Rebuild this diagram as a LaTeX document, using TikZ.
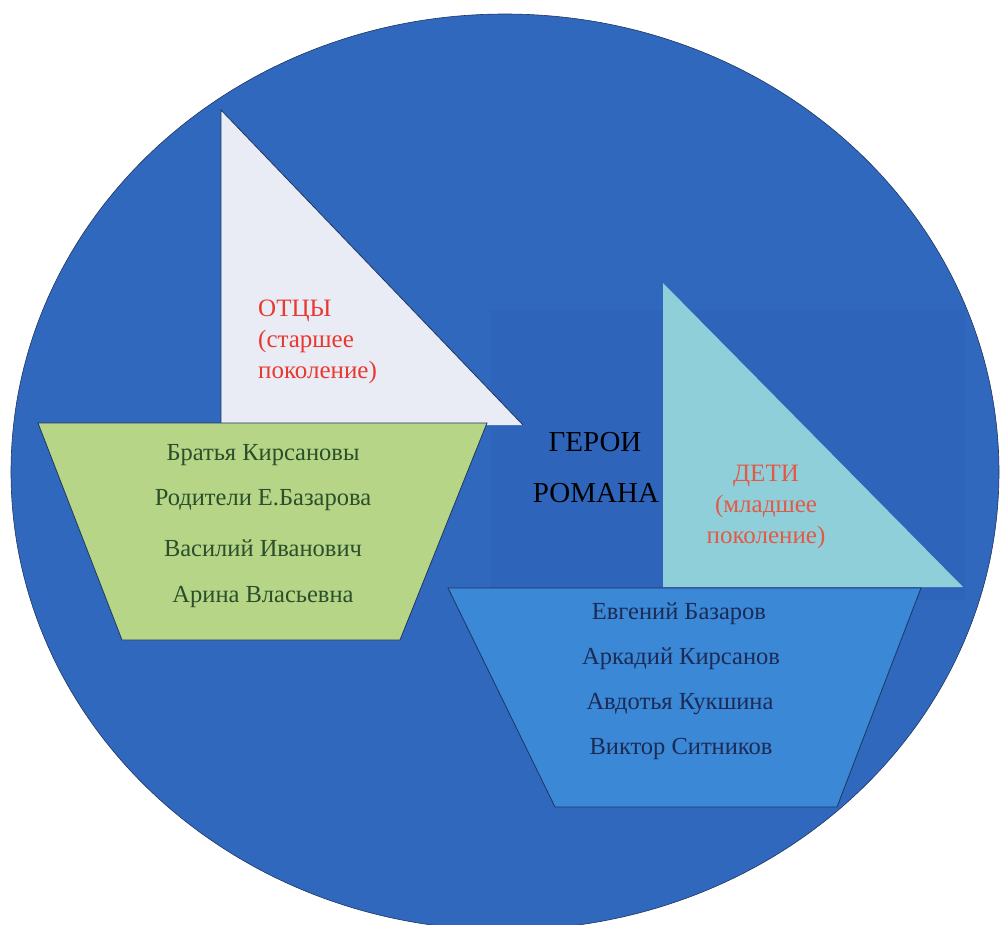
\documentclass[tikz,border=0pt]{standalone}
\usepackage{fontspec}
\setmainfont{Liberation Serif}
\newfontfamily\timesfont{Liberation Serif}
\definecolor{sea}{HTML}{3068BE}
\definecolor{seadark}{HTML}{2E65BA}
\definecolor{sailwhite}{HTML}{E9ECF5}
\definecolor{sailcyan}{HTML}{8ECFDA}
\definecolor{hullgreen}{HTML}{B6D587}
\definecolor{hullblue}{HTML}{3A88D6}
\definecolor{edge}{HTML}{1E3560}
\definecolor{greentext}{HTML}{2A4F2A}
\definecolor{bluetext}{HTML}{1C2B55}
\definecolor{redtext}{HTML}{E8382F}
\definecolor{redtext2}{HTML}{E35A44}
\tikzset{
  shapeedge/.style={draw=edge, line width=0.8pt},
  hulltext/.style={font=\timesfont\fontsize{24.5}{28}\selectfont, inner sep=0pt, anchor=center},
  sailtext/.style={font=\timesfont\fontsize{25}{31}\selectfont, inner sep=0pt},
  titletext/.style={font=\timesfont\fontsize{29}{33}\selectfont, inner sep=0pt, text=black}
}
\begin{document}
\begin{tikzpicture}[x=1pt,y=-1pt]
\useasboundingbox (0,0) rectangle (1007,924);
\fill[white] (0,0) rectangle (1007,924);
% sea circle
\begin{scope}
\clip (505,472) ellipse [x radius=494, y radius=458];
\fill[sea] (0,0) rectangle (1007,940);
\fill[seadark] (490,310) rectangle (965,600);
\end{scope}
\draw[edge, line width=0.6pt] (505,472) ellipse [x radius=494, y radius=458];
% left ship
\coordinate (ws1) at (221,110);
\coordinate (ws2) at (221,425);
\coordinate (ws3) at (523,425);
\fill[sailwhite] (ws1) -- (ws2) -- (ws3) -- cycle;
\draw[shapeedge] (ws3) -- (ws1) -- (ws2);
\coordinate (gh1) at (38,423);
\coordinate (gh2) at (487,423);
\coordinate (gh3) at (400,640);
\coordinate (gh4) at (122,640);
\filldraw[fill=hullgreen, shapeedge] (gh1) -- (gh2) -- (gh3) -- (gh4) -- cycle;
% right ship
\coordinate (cs1) at (663,283);
\coordinate (cs2) at (663,587);
\coordinate (cs3) at (963,587);
\fill[sailcyan] (cs1) -- (cs2) -- (cs3) -- cycle;
\coordinate (bh1) at (448,588);
\coordinate (bh2) at (921,588);
\coordinate (bh3) at (837,807);
\coordinate (bh4) at (555,807);
\filldraw[fill=hullblue, shapeedge] (bh1) -- (bh2) -- (bh3) -- (bh4) -- cycle;
% sail texts
\node[sailtext, text=redtext, align=left, anchor=north west] (otcy) at (258,300)
  {ОТЦЫ\\(старшее\\поколение)};
\node[sailtext, text=redtext2, align=center, anchor=north] (deti) at (766,465)
  {ДЕТИ\\(младшее\\поколение)};
% title
\node[titletext] (geroi) at (595,442) {ГЕРОИ};
\node[titletext] (romana) at (596,493) {РОМАНА};
% left hull texts
\node[hulltext, text=greentext] (g1) at (263,455) {Братья Кирсановы};
\node[hulltext, text=greentext] (g2) at (263,500) {Родители Е.Базарова};
\node[hulltext, text=greentext] (g3) at (263,548) {Василий Иванович};
\node[hulltext, text=greentext] (g4) at (263,597) {Арина Власьевна};
% right hull texts
\node[hulltext, text=bluetext] (b1) at (679,614) {Евгений Базаров};
\node[hulltext, text=bluetext] (b2) at (681,659) {Аркадий Кирсанов};
\node[hulltext, text=bluetext] (b3) at (680,704) {Авдотья Кукшина};
\node[hulltext, text=bluetext] (b4) at (681,749) {Виктор Ситников};
\end{tikzpicture}
\end{document}
